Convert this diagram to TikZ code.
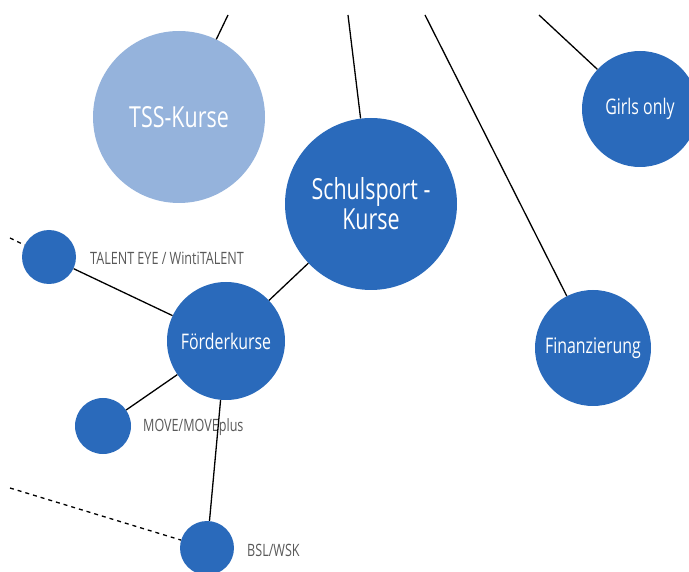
\documentclass[tikz,border=0pt]{standalone}
\usepackage{fontspec}
\setmainfont{Open Sans}[FakeStretch=0.74]
\definecolor{dblue}{RGB}{42,106,187}
\definecolor{lblue}{RGB}{149,179,220}
\definecolor{lbl}{RGB}{89,89,89}
\begin{document}
\begin{tikzpicture}[x=1pt,y=-1pt,
  bub/.style={circle,fill=dblue,text=white,inner sep=0pt,align=center},
  big/.style={font=\fontsize{29}{30}\selectfont},
  mid/.style={font=\fontsize{21.5}{24}\selectfont},
  lab/.style={text=lbl,anchor=west,inner sep=0pt,font=\fontsize{17}{19}\selectfont},
  conn/.style={line width=1.3pt,black},
  dconn/.style={line width=1.3pt,black,dash pattern=on 4pt off 4pt}]
\useasboundingbox (0,0) rectangle (689,572);
\clip (0,0) rectangle (689,572);
% nodes
\node[bub,fill=lblue,minimum size=172pt,big] (tss) at (179,117) {TSS-Kurse};
\node[bub,minimum size=172pt,big] (schul) at (371,204) {Schulsport -\\Kurse};
\node[bub,minimum size=116pt,mid] (girls) at (640,109) {Girls only};
\node[bub,minimum size=116pt,mid] (fin) at (593,348) {Finanzierung};
\node[bub,minimum size=118pt,mid] (foerd) at (226,341) {Förderkurse};
\node[bub,minimum size=54pt] (talent) at (49,257) {};
\node[bub,minimum size=56pt] (move) at (103,426) {};
\node[bub,minimum size=54pt] (bsl) at (207,548) {};
% labels
\node[lab] (ltalent) at (90,258) {TALENT EYE / WintiTALENT};
\node[lab] (lmove) at (143,427) {MOVE/MOVEplus};
\node[lab] (lbsl) at (247,550) {BSL/WSK};
% free ends
\coordinate (t1) at (228,15);
\coordinate (t2) at (348,15);
\coordinate (t3) at (425,15);
\coordinate (t4) at (539,15);
\coordinate (d1) at (10,238);
\coordinate (d2) at (10,488);
% connectors
\draw[conn] (t1) -- (tss);
\draw[conn] (t2) -- (schul);
\draw[conn] (t3) -- (fin);
\draw[conn] (t4) -- (girls);
\draw[conn] (foerd) -- (schul);
\draw[conn] (talent) -- (foerd);
\draw[conn] (move) -- (foerd);
\draw[conn] (foerd) -- (bsl);
\draw[dconn] (d1) -- (talent);
\draw[dconn] (d2) -- (bsl);
\end{tikzpicture}
\end{document}
